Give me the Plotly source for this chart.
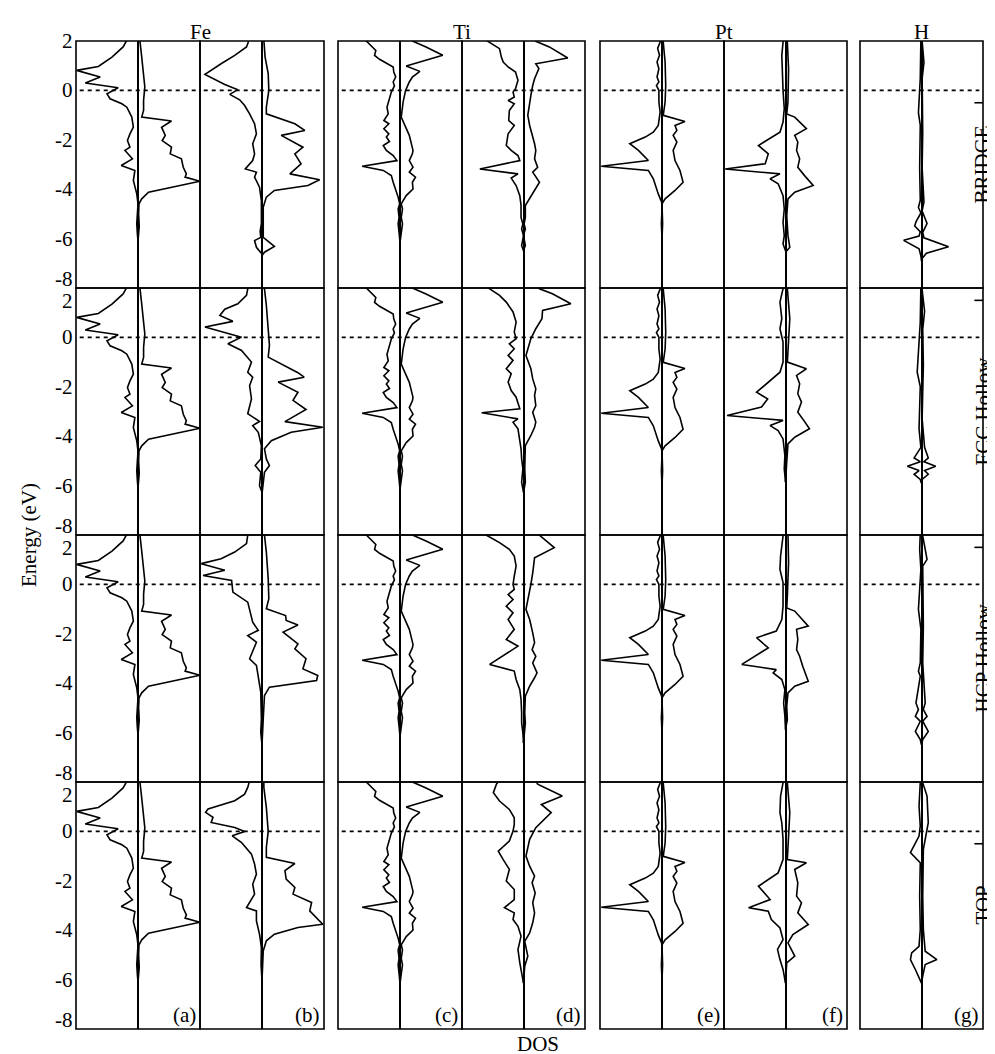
import plotly.graph_objects as go

# ---------------- data (energy in eV, DOS in arbitrary units; spin-down negative) ----------------
ELEMENTS = ["Fe", "Ti", "Pt", "H"]
SITES = ["BRIDGE", "FCC Hollow", "HCP Hollow", "TOP"]
PANEL_LETTERS = ["(a)", "(b)", "(c)", "(d)", "(e)", "(f)", "(g)"]
Y_TICKS = [2, 0, -2, -4, -6, -8]
Y_TICK_TEXT = ["2", "0", "-2", "-4", "-6", "-8"]
E_RANGE = [-8, 2]
DOS_RANGE = [-1, 1]
FERMI = 0.0
H_MARK_E = [-0.5, 1.5, 1.5, -0.5]

# Fe (a) – identical in all four rows
FE_A_DN_E = [2.05, 2.03, 1.76, 1.35, 0.97, 0.81, 0.54, 0.30, 0.11, -0.14, -0.34, -0.54, -0.68, -1.08, -1.49, -1.76, -2.03, -2.30, -2.43, -2.77, -3.04, -3.24, -3.65, -4.19, -4.60, -5.00, -5.40, -5.80, -6.10]
FE_A_DN_D = [-0.18, -0.18, -0.24, -0.42, -0.64, -0.99, -0.61, -0.85, -0.32, -0.50, -0.45, -0.26, -0.18, -0.10, -0.075, -0.13, -0.17, -0.13, -0.21, -0.09, -0.27, -0.05, -0.075, -0.02, 0.0, -0.015, -0.02, -0.01, 0.0]
FE_A_UP_E = [2.05, 2.03, 1.35, 0.68, 0.14, -0.41, -0.81, -1.08, -1.24, -1.49, -1.82, -2.03, -2.30, -2.57, -2.77, -3.11, -3.38, -3.51, -3.68, -4.12, -4.39, -4.59, -5.00, -5.50, -6.10]
FE_A_UP_D = [0.03, 0.03, 0.06, 0.09, 0.11, 0.09, 0.09, 0.06, 0.54, 0.38, 0.44, 0.39, 0.54, 0.52, 0.70, 0.73, 0.78, 0.76, 1.0, 0.17, 0.06, 0.016, 0.01, 0.02, 0.0]

# Fe (b)
FE_B1_DN_E = [2.05, 2.03, 1.76, 1.42, 1.08, 0.65, 0.24, 0.03, -0.16, -0.38, -0.61, -0.95, -1.35, -1.76, -2.16, -2.57, -2.84, -3.18, -3.31, -3.51, -3.92, -4.46, -5.40, -5.70, -5.95, -6.08, -6.35, -6.62]
FE_B1_DN_D = [-0.20, -0.21, -0.25, -0.44, -0.66, -0.92, -0.60, -0.39, -0.52, -0.36, -0.28, -0.20, -0.12, -0.09, -0.15, -0.12, -0.15, -0.27, -0.09, -0.12, -0.04, -0.01, -0.01, -0.03, -0.02, -0.12, -0.09, 0.0]
FE_B1_UP_E = [2.05, 2.03, 1.35, 0.68, 0.0, -0.68, -0.95, -1.35, -1.62, -1.82, -2.30, -2.57, -2.97, -3.38, -3.62, -3.85, -4.05, -4.32, -4.73, -5.40, -5.70, -5.95, -6.32, -6.55, -6.69]
FE_B1_UP_D = [0.03, 0.03, 0.05, 0.10, 0.11, 0.07, 0.07, 0.53, 0.69, 0.31, 0.66, 0.53, 0.63, 0.45, 0.93, 0.74, 0.20, 0.07, 0.02, 0.02, 0.03, 0.02, 0.20, 0.04, 0.0]

FE_B2_DN_E = [2.05, 1.97, 1.70, 1.36, 1.14, 0.89, 0.65, 0.42, 0.01, -0.26, -0.53, -1.00, -1.41, -1.61, -1.95, -2.49, -3.09, -3.23, -3.40, -3.57, -3.84, -4.38, -4.92, -5.19, -5.46, -6.00, -6.27]
FE_B2_DN_D = [-0.22, -0.23, -0.25, -0.39, -0.60, -0.68, -0.47, -0.92, -0.33, -0.55, -0.33, -0.17, -0.23, -0.15, -0.20, -0.17, -0.23, -0.15, -0.04, -0.15, -0.06, -0.01, -0.02, -0.11, -0.02, -0.04, 0.0]
FE_B2_UP_E = [2.05, 1.97, 1.30, 0.49, -0.32, -0.80, -1.07, -1.43, -1.61, -1.81, -2.22, -2.55, -2.92, -3.41, -3.64, -3.84, -4.18, -4.51, -4.92, -5.19, -5.46, -5.93, -6.34]
FE_B2_UP_D = [0.04, 0.04, 0.07, 0.10, 0.12, 0.10, 0.31, 0.58, 0.68, 0.26, 0.58, 0.50, 0.71, 0.37, 0.98, 0.47, 0.15, 0.04, 0.07, 0.12, 0.04, 0.02, 0.0]

FE_B3_DN_E = [2.05, 1.99, 1.65, 1.31, 1.04, 0.84, 0.57, 0.36, 0.16, -0.31, -0.72, -1.26, -1.53, -1.86, -2.07, -2.34, -3.01, -3.28, -3.69, -4.36, -5.45, -5.99, -6.50]
FE_B3_DN_D = [-0.22, -0.23, -0.25, -0.44, -0.66, -0.98, -0.60, -0.95, -0.49, -0.47, -0.23, -0.17, -0.15, -0.06, -0.23, -0.09, -0.20, -0.09, -0.06, -0.02, -0.01, -0.02, 0.0]
FE_B3_UP_E = [2.05, 1.99, 1.31, 0.23, -0.58, -0.99, -1.26, -1.46, -1.64, -1.93, -2.41, -2.61, -3.01, -3.42, -3.69, -3.89, -4.16, -4.50, -5.45, -6.50]
FE_B3_UP_D = [0.04, 0.04, 0.07, 0.10, 0.11, 0.07, 0.38, 0.39, 0.58, 0.34, 0.58, 0.53, 0.71, 0.66, 0.90, 0.88, 0.12, 0.04, 0.02, 0.0]

FE_B4_DN_E = [2.05, 1.78, 1.51, 1.24, 0.91, 0.77, 0.57, 0.36, 0.16, 0.0, -0.18, -0.45, -0.92, -1.32, -1.73, -2.14, -2.54, -3.08, -3.22, -3.62, -4.16, -4.70, -5.40, -6.05]
FE_B4_DN_D = [-0.20, -0.23, -0.28, -0.44, -0.87, -0.91, -0.79, -0.82, -0.44, -0.28, -0.48, -0.33, -0.17, -0.12, -0.09, -0.15, -0.12, -0.25, -0.09, -0.09, -0.04, -0.01, -0.015, 0.0]
FE_B4_UP_E = [2.05, 1.78, 0.97, 0.0, -0.65, -1.05, -1.30, -1.59, -1.93, -2.27, -2.54, -2.88, -3.22, -3.76, -3.89, -4.16, -4.43, -4.84, -6.05]
FE_B4_UP_D = [0.03, 0.03, 0.07, 0.10, 0.07, 0.07, 0.53, 0.37, 0.39, 0.53, 0.50, 0.80, 0.77, 0.98, 0.58, 0.20, 0.07, 0.02, 0.0]

# Ti (c) – identical in all four rows
TI_C_DN_E = [2.05, 1.99, 1.62, 1.42, 1.26, 1.04, 0.95, 0.74, 0.54, 0.34, 0.18, -0.07, -0.41, -0.68, -0.95, -1.22, -1.35, -1.55, -1.76, -1.89, -2.07, -2.23, -2.43, -2.64, -2.84, -3.07, -3.24, -3.45, -3.72, -3.99, -4.32, -4.59, -4.80, -5.14, -5.40, -5.88, -6.15]
TI_C_DN_D = [-0.57, -0.54, -0.39, -0.41, -0.33, -0.19, -0.11, -0.10, -0.07, -0.11, -0.09, -0.14, -0.18, -0.21, -0.19, -0.26, -0.18, -0.26, -0.18, -0.22, -0.17, -0.27, -0.22, -0.11, -0.05, -0.61, -0.27, -0.14, -0.11, -0.07, -0.03, -0.005, -0.03, -0.015, -0.03, -0.01, 0.0]
TI_C_UP_E = [2.05, 1.99, 1.76, 1.42, 0.99, 0.77, 0.54, 0.34, 0.0, -0.47, -1.08, -1.42, -1.82, -2.43, -2.57, -2.84, -3.11, -3.31, -3.51, -3.72, -3.99, -4.26, -4.59, -4.80, -5.14, -5.40, -5.88, -6.15]
TI_C_UP_D = [0.18, 0.21, 0.42, 0.69, 0.10, 0.32, 0.20, 0.15, 0.09, 0.05, 0.02, 0.08, 0.15, 0.21, 0.20, 0.15, 0.21, 0.15, 0.25, 0.20, 0.21, 0.10, 0.02, 0.04, 0.02, 0.04, 0.01, 0.0]

# Ti (d)
TI_D1_DN_E = [2.05, 1.99, 1.69, 1.35, 1.15, 0.95, 0.74, 0.41, 0.07, -0.07, -0.27, -0.41, -0.54, -0.81, -1.22, -1.42, -1.76, -2.23, -2.43, -2.64, -2.84, -3.18, -3.38, -3.55, -3.85, -4.26, -4.66, -5.14, -5.41, -5.61, -5.88, -6.28, -6.49]
TI_D1_DN_D = [-0.62, -0.58, -0.39, -0.36, -0.33, -0.25, -0.13, -0.09, -0.13, -0.17, -0.15, -0.25, -0.15, -0.23, -0.24, -0.15, -0.25, -0.28, -0.20, -0.09, -0.06, -0.71, -0.09, -0.20, -0.12, -0.06, -0.04, -0.04, -0.01, -0.03, 0.0, -0.03, 0.0]
TI_D1_UP_E = [2.05, 1.99, 1.76, 1.31, 1.08, 0.88, 0.47, 0.20, -0.20, -1.01, -1.42, -1.82, -2.16, -2.43, -2.77, -3.11, -3.31, -3.72, -4.05, -4.39, -4.66, -5.14, -5.41, -5.61, -5.88, -6.28, -6.49]
TI_D1_UP_D = [0.17, 0.20, 0.42, 0.72, 0.20, 0.25, 0.18, 0.15, 0.12, 0.07, 0.10, 0.15, 0.18, 0.20, 0.18, 0.23, 0.15, 0.26, 0.18, 0.10, 0.03, 0.03, 0.01, 0.03, 0.0, 0.03, 0.0]

TI_D2_DN_E = [2.05, 1.97, 1.70, 1.43, 1.03, 0.62, 0.22, -0.05, -0.26, -0.46, -0.73, -0.93, -1.27, -1.47, -1.81, -2.15, -2.42, -2.89, -3.05, -3.30, -3.43, -3.70, -4.11, -4.51, -4.92, -5.32, -5.86, -6.27]
TI_D2_DN_D = [-0.60, -0.55, -0.39, -0.28, -0.17, -0.12, -0.15, -0.12, -0.23, -0.15, -0.25, -0.17, -0.28, -0.20, -0.25, -0.20, -0.12, -0.06, -0.68, -0.09, -0.17, -0.09, -0.06, -0.04, -0.03, -0.01, -0.03, 0.0]
TI_D2_UP_E = [2.05, 1.97, 1.77, 1.36, 1.09, 0.76, 0.35, -0.05, -0.73, -1.27, -1.68, -2.08, -2.35, -2.76, -3.03, -3.43, -3.64, -3.97, -4.38, -5.32, -5.86, -6.27]
TI_D2_UP_D = [0.24, 0.26, 0.47, 0.77, 0.31, 0.30, 0.20, 0.12, 0.04, 0.12, 0.15, 0.20, 0.18, 0.20, 0.15, 0.20, 0.18, 0.12, 0.03, 0.02, 0.03, 0.0]

TI_D3_DN_E = [2.05, 1.99, 1.69, 1.42, 1.15, 0.74, 0.34, 0.0, -0.20, -0.41, -0.61, -0.88, -1.15, -1.42, -1.82, -2.23, -2.50, -3.24, -3.51, -3.85, -4.26, -4.66, -5.20, -5.61, -6.01, -6.42]
TI_D3_DN_D = [-0.63, -0.60, -0.39, -0.23, -0.15, -0.12, -0.15, -0.17, -0.15, -0.25, -0.17, -0.28, -0.17, -0.25, -0.15, -0.28, -0.09, -0.55, -0.15, -0.12, -0.06, -0.04, -0.03, -0.03, -0.01, 0.0]
TI_D3_UP_E = [2.05, 1.99, 1.49, 1.08, 0.47, 0.0, -1.01, -1.42, -1.96, -2.36, -2.64, -2.91, -3.18, -3.58, -3.78, -4.12, -4.53, -5.20, -5.61, -6.42]
TI_D3_UP_D = [0.24, 0.26, 0.50, 0.18, 0.15, 0.12, 0.04, 0.10, 0.15, 0.18, 0.14, 0.20, 0.15, 0.22, 0.18, 0.10, 0.03, 0.02, 0.03, 0.0]

TI_D4_DN_E = [2.05, 1.91, 1.57, 1.23, 0.89, 0.55, 0.28, 0.01, -0.39, -0.80, -1.14, -1.54, -2.01, -2.35, -2.76, -3.09, -3.30, -3.57, -3.84, -4.24, -4.78, -5.32, -6.14]
TI_D4_DN_D = [-0.40, -0.44, -0.49, -0.39, -0.23, -0.15, -0.15, -0.17, -0.23, -0.41, -0.33, -0.23, -0.28, -0.15, -0.15, -0.31, -0.15, -0.17, -0.09, -0.04, -0.09, -0.06, 0.0]
TI_D4_UP_E = [2.05, 1.91, 1.43, 1.09, 0.76, 0.15, -0.32, -1.00, -1.41, -1.81, -2.08, -2.49, -2.89, -3.30, -3.70, -4.11, -4.45, -5.05, -5.46, -6.14]
TI_D4_UP_D = [0.20, 0.23, 0.63, 0.29, 0.45, 0.20, 0.10, 0.04, 0.10, 0.18, 0.14, 0.19, 0.15, 0.18, 0.15, 0.10, 0.02, 0.07, 0.02, 0.0]

# Pt (e) – identical in all four rows
PT_E_DN_E = [2.05, 1.96, 1.70, 1.42, 1.15, 0.88, 0.54, 0.34, 0.20, 0.0, -0.47, -0.88, -1.42, -1.69, -1.89, -2.16, -2.43, -2.84, -3.07, -3.24, -3.58, -3.85, -4.19, -4.53, -4.80, -5.40, -6.00]
PT_E_DN_D = [-0.03, -0.03, -0.07, -0.04, -0.08, -0.05, -0.08, -0.05, -0.09, -0.05, -0.05, -0.03, -0.06, -0.14, -0.27, -0.52, -0.38, -0.22, -0.98, -0.22, -0.14, -0.11, -0.06, -0.005, 0.0, -0.01, 0.0]
PT_E_UP_E = [2.05, 1.96, 1.15, 0.20, -0.47, -1.01, -1.26, -1.42, -1.62, -1.82, -2.09, -2.43, -2.84, -3.24, -3.72, -4.05, -4.39, -4.59, -5.40, -6.00]
PT_E_UP_D = [0.02, 0.02, 0.05, 0.06, 0.05, 0.02, 0.37, 0.21, 0.24, 0.18, 0.24, 0.18, 0.21, 0.29, 0.34, 0.21, 0.05, 0.0, 0.01, 0.0]

# Pt (f)
PT_F1_DN_E = [2.05, 1.96, 1.42, 0.61, 0.0, -0.74, -1.28, -1.69, -2.23, -2.57, -2.97, -3.18, -3.38, -3.58, -3.78, -4.26, -4.80, -5.34, -5.88, -6.22, -6.49]
PT_F1_DN_D = [-0.04, -0.04, -0.06, -0.05, -0.04, -0.02, -0.04, -0.09, -0.44, -0.28, -0.33, -0.98, -0.09, -0.25, -0.12, -0.04, -0.02, -0.04, -0.02, -0.04, 0.0]
PT_F1_UP_E = [2.05, 1.96, 0.88, -0.47, -0.95, -1.08, -1.55, -1.82, -2.09, -2.43, -2.77, -3.11, -3.45, -3.85, -4.12, -4.39, -5.07, -5.88, -6.35, -6.55]
PT_F1_UP_D = [0.03, 0.03, 0.05, 0.04, 0.02, 0.15, 0.34, 0.15, 0.20, 0.18, 0.23, 0.20, 0.31, 0.45, 0.15, 0.04, 0.02, 0.04, 0.07, 0.0]

PT_F2_DN_E = [2.05, 1.97, 1.43, 0.76, 0.35, -0.19, -1.00, -1.41, -2.22, -2.49, -2.82, -3.16, -3.36, -3.57, -3.77, -4.11, -4.78, -5.32, -5.86]
PT_F2_DN_D = [-0.04, -0.04, -0.09, -0.06, -0.09, -0.04, -0.04, -0.09, -0.47, -0.29, -0.39, -0.95, -0.04, -0.25, -0.12, -0.04, -0.01, -0.02, 0.0]
PT_F2_UP_E = [2.05, 1.97, 0.76, -1.00, -1.27, -1.54, -1.88, -2.28, -2.62, -3.03, -3.30, -3.70, -4.04, -4.31, -5.05, -5.86]
PT_F2_UP_D = [0.03, 0.03, 0.07, 0.03, 0.34, 0.18, 0.23, 0.20, 0.26, 0.20, 0.28, 0.39, 0.15, 0.04, 0.02, 0.0]

PT_F3_DN_E = [2.05, 1.96, 1.15, 0.61, 0.07, -0.88, -1.42, -1.89, -2.16, -2.57, -3.24, -3.45, -3.58, -3.85, -4.26, -4.80, -5.34, -5.88]
PT_F3_DN_D = [-0.04, -0.04, -0.08, -0.09, -0.04, -0.04, -0.06, -0.15, -0.47, -0.28, -0.71, -0.15, -0.20, -0.06, -0.01, -0.03, -0.01, 0.0]
PT_F3_UP_E = [2.05, 1.96, 0.88, -0.47, -0.95, -1.08, -1.69, -1.82, -2.23, -2.64, -2.91, -3.31, -3.92, -4.12, -4.39, -4.93, -5.47, -5.88]
PT_F3_UP_D = [0.04, 0.04, 0.05, 0.03, 0.02, 0.15, 0.37, 0.18, 0.20, 0.18, 0.23, 0.28, 0.37, 0.15, 0.04, 0.02, 0.03, 0.0]

PT_F4_DN_E = [2.05, 1.97, 1.43, 0.76, 0.35, -0.32, -1.14, -1.68, -2.22, -2.76, -3.09, -3.23, -3.57, -3.91, -4.38, -4.78, -5.19, -5.59, -6.14]
PT_F4_DN_D = [-0.04, -0.04, -0.08, -0.09, -0.06, -0.04, -0.04, -0.12, -0.44, -0.25, -0.60, -0.28, -0.23, -0.09, -0.04, -0.13, -0.09, -0.04, 0.0]
PT_F4_UP_E = [2.05, 1.97, 0.76, -1.14, -1.27, -1.54, -2.08, -2.62, -2.89, -3.30, -3.77, -4.18, -4.51, -5.05, -5.32, -6.14]
PT_F4_UP_D = [0.03, 0.03, 0.07, 0.03, 0.34, 0.15, 0.20, 0.18, 0.26, 0.20, 0.37, 0.12, 0.04, 0.15, 0.02, 0.0]

# H (g)
H_1_DN_E = [2.05, 2.0, 0.48, -0.90, -1.41, -3.14, -4.45, -4.74, -4.96, -5.32, -5.49, -5.72, -5.90, -6.07, -6.41, -6.70, -6.91]
H_1_DN_D = [-0.01, -0.01, -0.02, -0.05, -0.02, -0.03, -0.02, -0.05, -0.01, -0.09, -0.11, -0.02, -0.04, -0.29, -0.04, -0.01, 0.0]
H_1_UP_E = [2.05, 2.0, 1.13, 0.48, -1.70, -3.14, -4.52, -4.88, -5.39, -5.75, -5.97, -6.33, -6.59, -6.84]
H_1_UP_D = [0.01, 0.01, 0.04, 0.01, 0.02, 0.01, 0.04, 0.01, 0.09, 0.02, 0.04, 0.44, 0.08, 0.0]

H_2_DN_E = [2.05, 1.93, 0.62, -1.41, -1.99, -3.70, -4.45, -4.88, -5.03, -5.22, -5.39, -5.54, -5.75, -5.90]
H_2_DN_D = [-0.01, -0.01, -0.02, -0.07, -0.02, -0.04, -0.01, -0.12, -0.02, -0.23, -0.04, -0.12, -0.02, 0.0]
H_2_UP_E = [2.05, 1.93, 1.06, 0.33, -1.12, -3.29, -4.45, -4.88, -5.03, -5.22, -5.39, -5.54, -5.75, -5.90]
H_2_UP_D = [0.01, 0.01, 0.05, 0.02, 0.03, 0.01, 0.05, 0.11, 0.04, 0.23, 0.05, 0.11, 0.01, 0.0]

H_3_DN_E = [2.05, 1.96, 1.42, 0.61, -1.01, -1.82, -3.18, -3.51, -3.72, -4.80, -5.07, -5.34, -5.54, -5.95, -6.28, -6.49]
H_3_DN_D = [-0.02, -0.02, -0.03, -0.01, -0.05, -0.01, -0.02, -0.05, -0.02, -0.09, -0.05, -0.10, -0.02, -0.10, -0.02, 0.0]
H_3_UP_E = [2.05, 1.96, 1.01, 0.74, -1.69, -3.18, -4.80, -5.07, -5.34, -5.54, -5.95, -6.28, -6.49]
H_3_UP_D = [0.02, 0.02, 0.09, 0.02, 0.03, 0.02, 0.06, 0.03, 0.09, 0.02, 0.11, 0.02, 0.0]

H_4_DN_E = [2.05, 1.97, 1.03, 0.22, -0.19, -0.86, -1.27, -2.62, -3.97, -4.65, -4.92, -5.19, -5.59, -5.86, -6.14]
H_4_DN_D = [-0.02, -0.02, -0.04, -0.02, -0.04, -0.18, -0.02, -0.03, -0.02, -0.04, -0.16, -0.18, -0.10, -0.05, 0.0]
H_4_UP_E = [2.05, 1.97, 1.43, 0.35, -0.73, -2.62, -3.97, -4.85, -5.19, -5.39, -5.86, -6.14]
H_4_UP_D = [0.02, 0.02, 0.09, 0.11, 0.03, 0.02, 0.03, 0.06, 0.25, 0.06, 0.02, 0.0]

# curves per row (site) and column (panel): (down_E, down_DOS, up_E, up_DOS)
FE_A = (FE_A_DN_E, FE_A_DN_D, FE_A_UP_E, FE_A_UP_D)
TI_C = (TI_C_DN_E, TI_C_DN_D, TI_C_UP_E, TI_C_UP_D)
PT_E = (PT_E_DN_E, PT_E_DN_D, PT_E_UP_E, PT_E_UP_D)
ROW_CURVES = [
    [FE_A, (FE_B1_DN_E, FE_B1_DN_D, FE_B1_UP_E, FE_B1_UP_D), TI_C, (TI_D1_DN_E, TI_D1_DN_D, TI_D1_UP_E, TI_D1_UP_D),
     PT_E, (PT_F1_DN_E, PT_F1_DN_D, PT_F1_UP_E, PT_F1_UP_D), (H_1_DN_E, H_1_DN_D, H_1_UP_E, H_1_UP_D)],
    [FE_A, (FE_B2_DN_E, FE_B2_DN_D, FE_B2_UP_E, FE_B2_UP_D), TI_C, (TI_D2_DN_E, TI_D2_DN_D, TI_D2_UP_E, TI_D2_UP_D),
     PT_E, (PT_F2_DN_E, PT_F2_DN_D, PT_F2_UP_E, PT_F2_UP_D), (H_2_DN_E, H_2_DN_D, H_2_UP_E, H_2_UP_D)],
    [FE_A, (FE_B3_DN_E, FE_B3_DN_D, FE_B3_UP_E, FE_B3_UP_D), TI_C, (TI_D3_DN_E, TI_D3_DN_D, TI_D3_UP_E, TI_D3_UP_D),
     PT_E, (PT_F3_DN_E, PT_F3_DN_D, PT_F3_UP_E, PT_F3_UP_D), (H_3_DN_E, H_3_DN_D, H_3_UP_E, H_3_UP_D)],
    [FE_A, (FE_B4_DN_E, FE_B4_DN_D, FE_B4_UP_E, FE_B4_UP_D), TI_C, (TI_D4_DN_E, TI_D4_DN_D, TI_D4_UP_E, TI_D4_UP_D),
     PT_E, (PT_F4_DN_E, PT_F4_DN_D, PT_F4_UP_E, PT_F4_UP_D), (H_4_DN_E, H_4_DN_D, H_4_UP_E, H_4_UP_D)],
]

# ---------------- layout geometry ----------------
W, H = 995, 1054
COL_PX = [(68, 192), (192, 316), (330, 454), (454, 577), (592, 716), (716, 839), (852, 975)]
ROW_PX = [(33, 280), (280, 527), (527, 774), (774, 1021)]
GROUP_COLS = [(0, 1), (2, 3), (4, 5), (6, 6)]
FONT = "Liberation Serif"
LW = 1.6
FS = 21

fig = go.Figure()
layout = dict(
    width=W, height=H, margin=dict(l=0, r=0, t=0, b=0),
    paper_bgcolor="white", plot_bgcolor="white", showlegend=False,
    font=dict(family=FONT, size=FS, color="black"),
)
shapes, annotations = [], []

for r in range(4):
    for c in range(7):
        k = r * 7 + c + 1
        xs = "" if k == 1 else str(k)
        x0, x1 = COL_PX[c]
        y0, y1 = ROW_PX[r]
        layout["xaxis" + xs] = dict(
            domain=[x0 / W, x1 / W], anchor="y" + xs, range=DOS_RANGE,
            showgrid=False, showticklabels=False, ticks="", showline=False,
            zeroline=True, zerolinecolor="black", zerolinewidth=LW,
        )
        layout["yaxis" + xs] = dict(
            domain=[1 - y1 / H, 1 - y0 / H], anchor="x" + xs, range=E_RANGE,
            showgrid=False, showticklabels=False, ticks="", zeroline=False, showline=False,
        )
        dnE, dnD, upE, upD = ROW_CURVES[r][c]
        for ee, dd in ((dnE, dnD), (upE, upD)):
            fig.add_trace(go.Scatter(
                x=dd, y=ee, mode="lines", xaxis="x" + xs, yaxis="y" + xs,
                line=dict(color="black", width=LW), hoverinfo="skip",
            ))
        # panel frame
        shapes.append(dict(
            type="rect", xref="x" + xs + " domain", yref="y" + xs + " domain",
            x0=0, x1=1, y0=0, y1=1, line=dict(color="black", width=LW), layer="above",
        ))
        # Fermi level
        shapes.append(dict(
            type="line", xref="x" + xs + " domain", yref="y" + xs,
            x0=0.03, x1=0.97, y0=FERMI, y1=FERMI,
            line=dict(color="black", width=LW, dash="4px,4px"),
        ))
        if c == 6:
            shapes.append(dict(
                type="line", xref="x" + xs + " domain", yref="y" + xs,
                x0=0.93, x1=1.0, y0=H_MARK_E[r], y1=H_MARK_E[r],
                line=dict(color="black", width=LW),
            ))
        if r == 3:
            annotations.append(dict(
                text=PANEL_LETTERS[c], xref="x" + xs + " domain", yref="y" + xs + " domain",
                x=0.98, y=0.0, xanchor="right", yanchor="bottom", showarrow=False,
                font=dict(size=FS), yshift=0,
            ))
    # y tick labels
    ys = "" if r == 0 else str(r * 7 + 1)
    for t, tt in zip(Y_TICKS, Y_TICK_TEXT):
        shift = 0
        if t == E_RANGE[1] and r > 0:
            shift = -13
        elif t == E_RANGE[0]:
            shift = 9
        annotations.append(dict(
            text=tt, xref="paper", yref="y" + ys, x=66 / W, y=t,
            xanchor="right", yanchor="middle", showarrow=False, yshift=shift,
            font=dict(size=FS), borderpad=0,
        ))
    # site labels
    annotations.append(dict(
        text=SITES[r], xref="paper", yref="paper", x=974 / W,
        y=1 - (ROW_PX[r][0] + ROW_PX[r][1]) / 2 / H,
        textangle=-90, showarrow=False, xanchor="center", yanchor="middle",
        font=dict(size=FS), borderpad=0,
    ))

for g, (ca, cb) in enumerate(GROUP_COLS):
    xc = (COL_PX[ca][0] + COL_PX[cb][1]) / 2
    annotations.append(dict(
        text=ELEMENTS[g], xref="paper", yref="paper", x=xc / W, y=1 - 24 / H,
        showarrow=False, xanchor="center", yanchor="middle", font=dict(size=FS),
    ))

annotations.append(dict(
    text="Energy (eV)", xref="paper", yref="paper", x=21 / W, y=0.5,
    textangle=-90, showarrow=False, xanchor="center", yanchor="middle", font=dict(size=FS),
))
annotations.append(dict(
    text="DOS", xref="paper", yref="paper", x=530 / W, y=1 - 1036 / H,
    showarrow=False, xanchor="center", yanchor="middle", font=dict(size=FS),
))

layout["shapes"] = shapes
layout["annotations"] = annotations
fig.update_layout(**layout)
fig.write_html("out.html")
